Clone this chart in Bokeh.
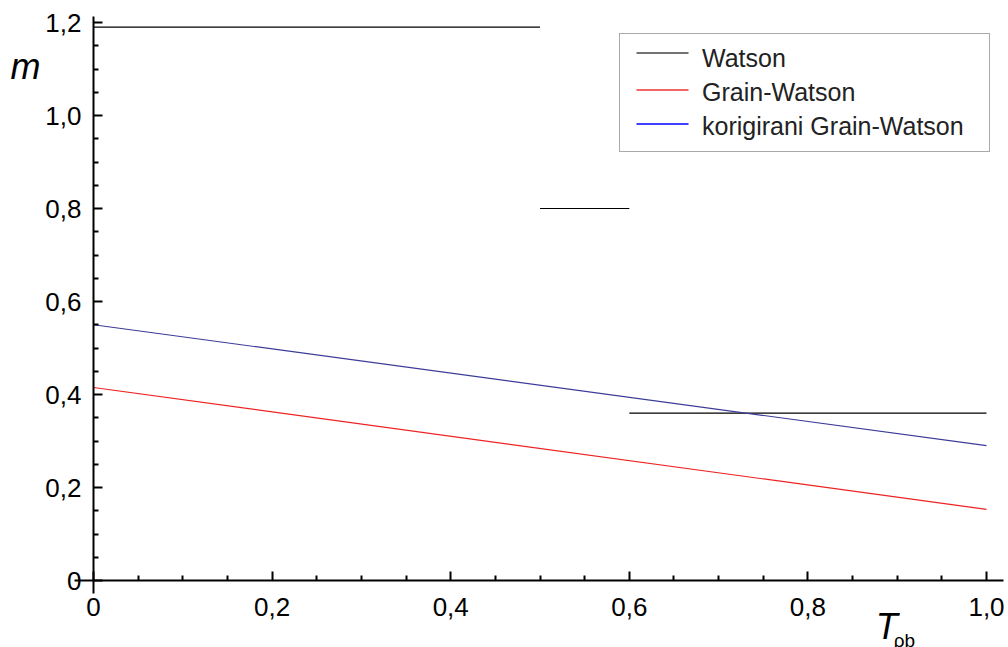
from bokeh.plotting import figure
from bokeh.models import (FixedTicker, CustomJSTickFormatter, Label, Legend,
                          LegendItem, Range1d, BoxAnnotation)
from bokeh.embed import file_html
from bokeh.resources import INLINE

# ---- data ----
watson_x = [[0.0, 0.5], [0.5, 0.6], [0.6, 1.0]]
watson_y = [[1.19, 1.19], [0.80, 0.80], [0.36, 0.36]]
gw_x = [0.0, 1.0]
gw_y = [0.415, 0.153]
kgw_x = [0.0, 1.0]
kgw_y = [0.550, 0.290]
x_ticks = [0.0, 0.2, 0.4, 0.6, 0.8, 1.0]
y_ticks = [0.0, 0.2, 0.4, 0.6, 0.8, 1.0, 1.2]
legend_labels = ["Watson", "Grain-Watson", "korigirani Grain-Watson"]
legend_colors = ["#444444", "#ee3333", "#0000ff"]

FONT = "Liberation Sans"
W, H = 1008, 647
X0, Y0, SX, SY = 93.0, 580.0, 893.0, 465.0   # pixel anchors of the frame


def dx(px):
    return (px - X0) / SX


def dy(py):
    return (Y0 - py) / SY


p = figure(width=W, height=H, output_backend="svg", toolbar_location=None,
           x_range=Range1d(dx(0), dx(W)), y_range=Range1d(dy(H), dy(0)),
           min_border=0)
p.background_fill_color = "white"
p.border_fill_color = "white"
p.outline_line_color = None
p.grid.visible = False

p.multi_line(watson_x, watson_y, line_color="black", line_width=1.2)
p.multi_line([gw_x], [gw_y], line_color="#ee2222", line_width=1.2)
p.multi_line([kgw_x], [kgw_y], line_color="#3b3b9a", line_width=1.2)

minor_x = [i * 0.05 for i in range(0, 21) if i % 4 != 0]
minor_y = [i * 0.05 for i in range(0, 25) if i % 4 != 0]

fmt = CustomJSTickFormatter(code="""
    if (Math.abs(tick) < 1e-9) { return "0"; }
    return tick.toFixed(1).replace(".", ",");
""")

for ax, ticks, minors in ((p.xaxis[0], x_ticks, minor_x), (p.yaxis[0], y_ticks, minor_y)):
    ax.ticker = FixedTicker(ticks=ticks, minor_ticks=minors)
    ax.formatter = fmt
    ax.fixed_location = 0
    ax.axis_line_width = 2
    ax.axis_line_color = "black"
    ax.major_tick_in = 9
    ax.major_tick_out = 0
    ax.minor_tick_in = 5
    ax.minor_tick_out = 0
    ax.major_tick_line_width = 2
    ax.minor_tick_line_width = 2
    ax.major_tick_line_color = "black"
    ax.minor_tick_line_color = "black"
    ax.major_label_text_font = FONT
    ax.major_label_text_font_size = "26px"
    ax.major_label_text_color = "black"

p.xaxis.bounds = (dx(74), dx(1003))
p.yaxis.bounds = (dy(593), dy(16))
p.xaxis.major_label_standoff = 17
p.yaxis.major_label_standoff = 12

p.add_layout(Label(x=-0.093, y=1.105, text="m", text_font=FONT,
                   text_font_style="italic", text_font_size="36px",
                   text_color="black", text_baseline="alphabetic"))
p.add_layout(Label(x=0.876, y=-0.099, text="T", text_font=FONT,
                   text_font_style="italic", text_font_size="36px",
                   text_color="black", text_baseline="alphabetic"))
p.add_layout(Label(x=0.896, y=-0.129, text="ρb", text_font=FONT,
                   text_font_size="19px", text_color="black",
                   text_baseline="alphabetic"))

# legend box with the labels
blank = [p.multi_line([gw_x], [gw_y], line_alpha=0, visible=False) for _ in legend_labels]
box = Legend(items=[LegendItem(label=lab, renderers=[r]) for lab, r in zip(legend_labels, blank)],
             location=(619, 495))
box.padding = 10
box.spacing = 5
box.glyph_width = 52
box.label_standoff = 20
box.label_width = 277
box.label_text_font = FONT
box.label_text_font_size = "25px"
box.label_text_color = "#222222"
box.border_line_color = "#555555"
box.border_line_width = 1
box.background_fill_alpha = 0
p.add_layout(box)

# legend swatches
for yc, col in zip([52.5, 89.5, 123.5], legend_colors):
    p.add_layout(BoxAnnotation(left=dx(636), right=dx(688),
                               top=dy(yc - 0.7), bottom=dy(yc + 0.7),
                               fill_color=col, fill_alpha=1, line_alpha=0,
                               level="overlay"))

open("out.html", "w").write(file_html(p, INLINE))
